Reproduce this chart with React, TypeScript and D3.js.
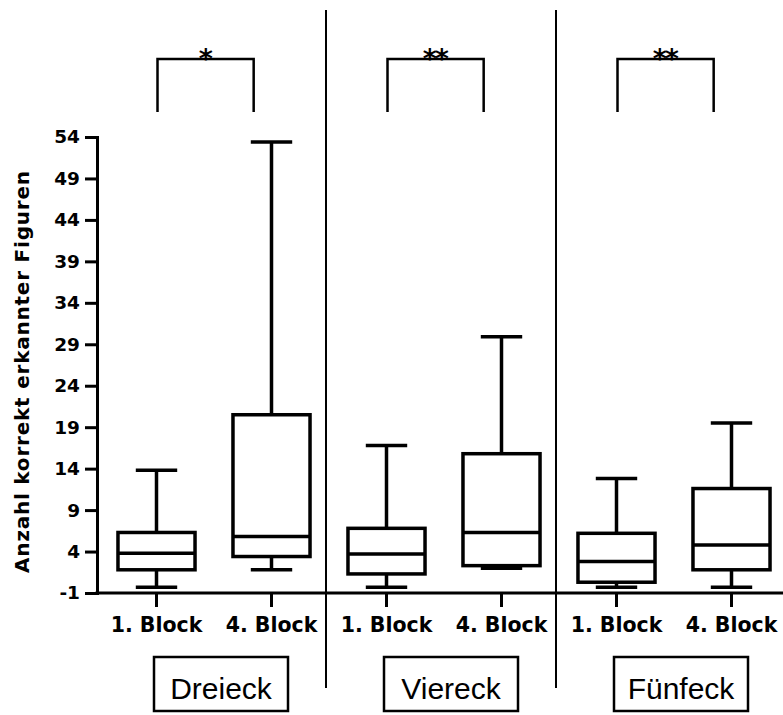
import React, { useRef, useEffect } from 'react';
import * as d3 from 'd3';

// groups and blocks along the x axis
const groups = ['Dreieck', 'Viereck', 'Fünfeck'];
const blocks = ['1. Block', '4. Block'];
const stars = ['*', '**', '**'];

// box plot values, one entry per (group, block) in order
const mins = [-0.3, 1.8, -0.3, 2.0, -0.3, -0.3];
const q1s = [1.8, 3.4, 1.3, 2.3, 0.3, 1.8];
const medians = [3.8, 5.8, 3.7, 6.3, 2.8, 4.8];
const q3s = [6.3, 20.5, 6.8, 15.8, 6.2, 11.6];
const maxs = [13.8, 53.4, 16.8, 29.9, 12.8, 19.5];

const yTicks = [-1, 4, 9, 14, 19, 24, 29, 34, 39, 44, 49, 54];
const yLabel = 'Anzahl korrekt erkannter Figuren';

function BoxPlot() {
  const ref = useRef<SVGSVGElement>(null);

  useEffect(() => {
    draw();
  }, []);

  function draw() {
    const width = 783;
    const height = 715;
    const marginLeft = 97;
    const axisY = 593;

    const svg = d3.select(ref.current)
      .attr('width', width)
      .attr('height', height)
      .attr('viewBox', [0, 0, width, height].join(' '));
    svg.selectAll('*').remove();

    const keys = groups.flatMap(g => blocks.map(b => g + '|' + b));
    const x = d3.scaleBand<string>().domain(keys).range([99, 789]);
    const y = d3.scaleLinear().domain([-1, 54]).range([axisY, 137]);
    const bw = x.bandwidth();
    const cx = (k: string) => (x(k) as number) + bw / 2;

    const rows = keys.map((k, i) => ({
      key: k, min: mins[i], q1: q1s[i], med: medians[i], q3: q3s[i], max: maxs[i]
    }));

    // y axis
    svg.append('g')
      .attr('transform', `translate(${marginLeft},0)`)
      .call(d3.axisLeft(y).tickValues(yTicks).tickSize(12).tickPadding(5).tickSizeOuter(0).tickFormat(d => String(d)))
      .call(g => g.select('.domain').attr('stroke-width', 3).attr('stroke-linecap', 'square'))
      .call(g => g.selectAll('.tick line').attr('stroke-width', 3))
      .call(g => g.selectAll('.tick text')
        .attr('font-family', 'DejaVu Sans')
        .attr('font-weight', 'bold')
        .attr('font-size', 18.5)
        .attr('fill', '#000'));

    svg.append('text')
      .attr('transform', `translate(29,${(y(-1) + y(54)) / 2 + 7}) rotate(-90)`)
      .attr('text-anchor', 'middle')
      .attr('font-family', 'DejaVu Sans')
      .attr('font-weight', 'bold')
      .attr('font-size', 20)
      .attr('textLength', 402)
      .attr('lengthAdjust', 'spacing')
      .text(yLabel);

    // x axis
    svg.append('line')
      .attr('x1', marginLeft - 1.5).attr('x2', width)
      .attr('y1', axisY).attr('y2', axisY)
      .attr('stroke', '#000').attr('stroke-width', 3);

    const xt = svg.append('g').selectAll('g').data(keys).join('g')
      .attr('transform', k => `translate(${cx(k)},${axisY})`);
    xt.append('line').attr('y2', 14).attr('stroke', '#000').attr('stroke-width', 3);
    xt.append('text')
      .attr('y', 39)
      .attr('text-anchor', 'middle')
      .attr('font-family', 'DejaVu Sans')
      .attr('font-weight', 'bold')
      .attr('font-size', 20.5)
      .text(k => k.split('|')[1]);

    // group separators
    svg.append('g').selectAll('line').data([keys[2], keys[4]]).join('line')
      .attr('x1', k => (x(k) as number) - 3).attr('x2', k => (x(k) as number) - 3)
      .attr('y1', 10).attr('y2', 688)
      .attr('stroke', '#000').attr('stroke-width', 2);

    // boxes
    const boxW = bw * 0.67;
    const capW = bw * 0.36;
    const b = svg.append('g').attr('stroke', '#000').attr('stroke-width', 3.5)
      .selectAll('g').data(rows).join('g');
    b.append('line')
      .attr('x1', d => cx(d.key)).attr('x2', d => cx(d.key))
      .attr('y1', d => y(d.q3)).attr('y2', d => y(d.max));
    b.append('line')
      .attr('x1', d => cx(d.key)).attr('x2', d => cx(d.key))
      .attr('y1', d => y(d.q1)).attr('y2', d => y(d.min));
    b.append('line')
      .attr('x1', d => cx(d.key) - capW / 2).attr('x2', d => cx(d.key) + capW / 2)
      .attr('y1', d => y(d.max)).attr('y2', d => y(d.max));
    b.append('line')
      .attr('x1', d => cx(d.key) - capW / 2).attr('x2', d => cx(d.key) + capW / 2)
      .attr('y1', d => y(d.min)).attr('y2', d => y(d.min));
    b.append('rect')
      .attr('x', d => cx(d.key) - boxW / 2)
      .attr('width', boxW)
      .attr('y', d => y(d.q3))
      .attr('height', d => y(d.q1) - y(d.q3))
      .attr('fill', '#fff');
    b.append('line')
      .attr('x1', d => cx(d.key) - boxW / 2).attr('x2', d => cx(d.key) + boxW / 2)
      .attr('y1', d => y(d.med)).attr('y2', d => y(d.med));

    // significance brackets and group labels
    const gr = svg.append('g').selectAll('g').data(groups).join('g');
    gr.append('path')
      .attr('d', (g, i) => {
        const x1 = cx(keys[i * 2]) + 1;
        const x2 = cx(keys[i * 2]) + x.step() * 0.845;
        return `M${x1},112V59H${x2}V112`;
      })
      .attr('fill', 'none').attr('stroke', '#000').attr('stroke-width', 2.5);
    gr.append('text')
      .attr('x', (g, i) => cx(keys[i * 2]) + x.step() * 0.42)
      .attr('y', 68)
      .attr('text-anchor', 'middle')
      .attr('font-family', 'DejaVu Sans')
      .attr('font-weight', 'bold')
      .attr('font-size', 27)
      .attr('letter-spacing', -2)
      .text((g, i) => stars[i]);

    const mid = (i: number) => (cx(keys[i * 2]) + cx(keys[i * 2 + 1])) / 2 + 7;
    gr.append('rect')
      .attr('x', (g, i) => mid(i) - 67)
      .attr('y', 657)
      .attr('width', 134)
      .attr('height', 54)
      .attr('fill', 'none').attr('stroke', '#000').attr('stroke-width', 2.5);
    gr.append('text')
      .attr('x', (g, i) => mid(i))
      .attr('y', 699)
      .attr('text-anchor', 'middle')
      .attr('font-family', 'Liberation Sans, Arial, sans-serif')
      .attr('font-size', 30)
      .text(g => g);
  }

  return (
    <div style={{ position: 'absolute', left: 0, top: 0, background: '#fff' }}>
      <svg ref={ref} style={{ display: 'block' }}></svg>
    </div>
  );
}

export default function App() {
  return <BoxPlot />;
}
